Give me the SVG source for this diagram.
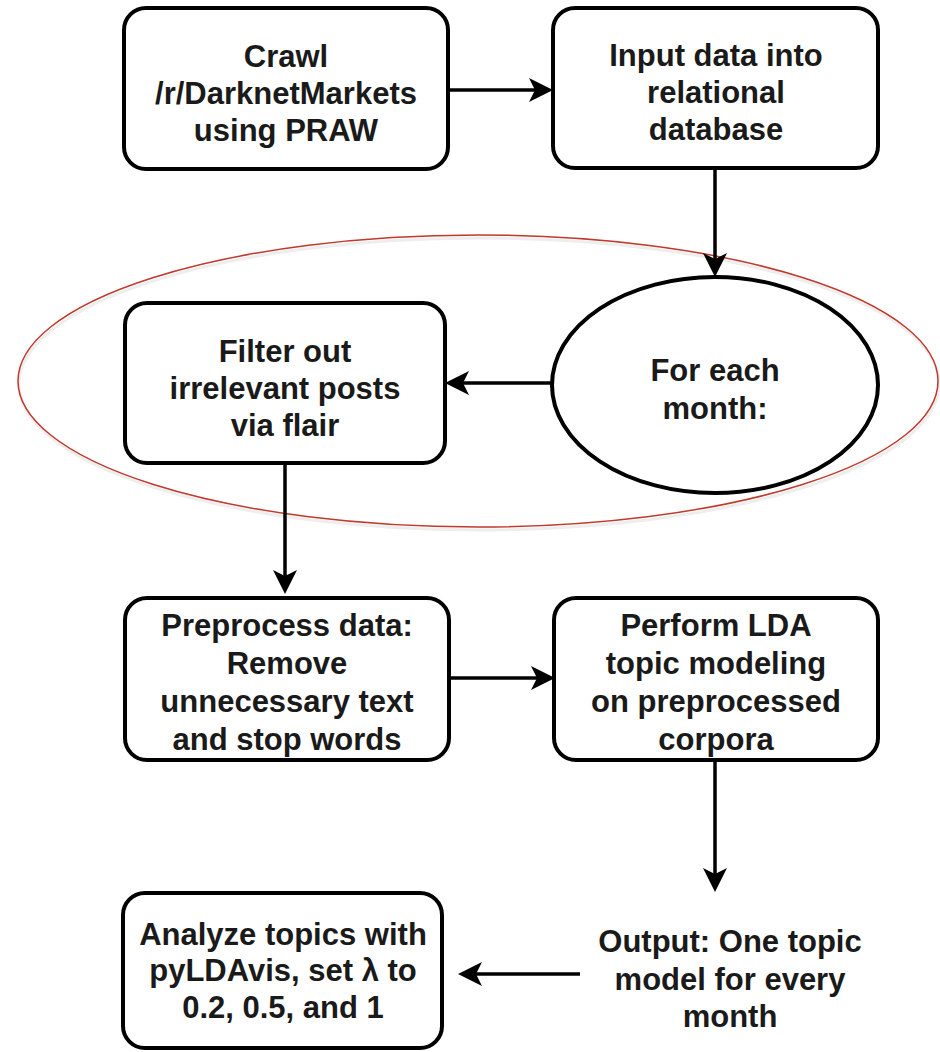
<svg xmlns="http://www.w3.org/2000/svg" width="940" height="1052" viewBox="0 0 940 1052">
<style>
.box{fill:#fff;stroke:#000;stroke-width:4}
.t{font-family:"Liberation Sans",Arial,sans-serif;font-weight:bold;font-size:31px;fill:#1a1a1a;text-anchor:middle}
.c{fill:none;stroke:#000;stroke-width:3.5}
</style>
<defs>
<marker id="ah" viewBox="0 0 24 24" refX="14" refY="12" markerWidth="24" markerHeight="24" orient="auto" markerUnits="userSpaceOnUse">
<path d="M0,0 L24,12 L0,24 L6,12 Z" fill="#000"/>
</marker>
</defs>
<rect width="940" height="1052" fill="#fff"/>
<g id="highlight">
<ellipse cx="479" cy="384" rx="460" ry="146" fill="none" stroke="#eeeeee" stroke-width="3"/>
<ellipse cx="478" cy="381" rx="460" ry="146" fill="none" stroke="#c0392b" stroke-width="1.5"/>
</g>
<g id="n1"><rect class="box" x="124" y="8" width="324" height="161" rx="22"/>
<text class="t" x="286" y="67">Crawl</text><text class="t" x="286" y="104">/r/DarknetMarkets</text><text class="t" x="286" y="141">using PRAW</text></g>
<g id="n2"><rect class="box" x="553" y="8" width="325" height="160" rx="22"/>
<text class="t" x="716" y="66">Input data into</text><text class="t" x="716" y="103">relational</text><text class="t" x="716" y="140">database</text></g>
<g id="n3"><ellipse class="box" cx="715" cy="385" rx="163" ry="108"/>
<text class="t" x="715" y="381">For each</text><text class="t" x="715" y="419">month:</text></g>
<g id="n4"><rect class="box" x="125" y="303" width="320" height="160" rx="22"/>
<text class="t" x="285" y="362">Filter out</text><text class="t" x="285" y="399">irrelevant posts</text><text class="t" x="285" y="436">via flair</text></g>
<g id="n5"><rect class="box" x="125" y="598" width="324" height="162" rx="22"/>
<text class="t" x="287" y="636">Preprocess data:</text><text class="t" x="287" y="674">Remove</text><text class="t" x="287" y="712">unnecessary text</text><text class="t" x="287" y="750">and stop words</text></g>
<g id="n6"><rect class="box" x="554" y="598" width="324" height="162" rx="22"/>
<text class="t" x="716" y="636">Perform LDA</text><text class="t" x="716" y="674">topic modeling</text><text class="t" x="716" y="712">on preprocessed</text><text class="t" x="716" y="750">corpora</text></g>
<g id="n7">
<text class="t" x="730" y="952">Output: One topic</text><text class="t" x="730" y="990">model for every</text><text class="t" x="730" y="1027">month</text></g>
<g id="n8"><rect class="box" x="123" y="893" width="319" height="155" rx="22"/>
<text class="t" x="283" y="945">Analyze topics with</text><text class="t" x="283" y="981">pyLDAvis, set λ to</text><text class="t" x="283" y="1018">0.2, 0.5, and 1</text></g>
<g id="connectors">
<path class="c" d="M448,90 L543,90" marker-end="url(#ah)"/>
<path class="c" d="M715,168 L715,267" marker-end="url(#ah)"/>
<path class="c" d="M552,383 L455,383" marker-end="url(#ah)"/>
<path class="c" d="M285,463 L285,584" marker-end="url(#ah)"/>
<path class="c" d="M449,678 L545,678" marker-end="url(#ah)"/>
<path class="c" d="M715,760 L715,882" marker-end="url(#ah)"/>
<path class="c" d="M580,974 L468,974" marker-end="url(#ah)"/>
</g>
</svg>
